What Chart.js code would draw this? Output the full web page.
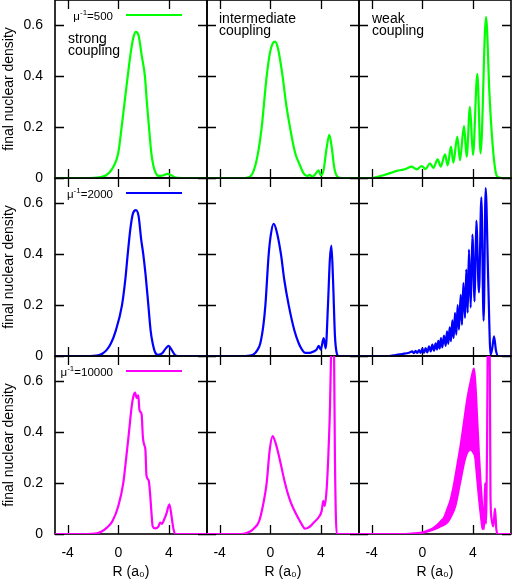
<!DOCTYPE html>
<html>
<head>
<meta charset="utf-8">
<script src="https://cdn.jsdelivr.net/npm/chart.js@4.4.1/dist/chart.umd.min.js"></script>
<style>
  body { margin: 0; background: #fff; }
  #grafica { position: relative; width: 512px; height: 581px; }
  #grafica canvas { position: absolute; left: 0; top: 0; }
</style>
</head>
<body>
<div id="grafica"></div>
<script>
const xTicks = [-4, 0, 4];
const yTicks = [0, 0.2, 0.4, 0.6];
const massLabels = ['500', '2000', '10000'];
const couplingLabels = [['strong', 'coupling'], ['intermediate', 'coupling'], ['weak', 'coupling']];
const lineColors = ['#00ff00', '#0000ff', '#ff00ff'];

// mu^-1 = 500
const strong500R = [-5, -2.5, -1.5, -1, -0.5, 0, 0.26, 0.5, 0.74, 1.0, 1.2, 1.39, 1.6, 1.85, 2.1, 2.25, 2.42, 2.6, 2.76, 2.95, 3.2, 3.5, 3.9, 4.2, 4.5, 5, 7];
const strong500D = [0, 0, 0.003, 0.01, 0.035, 0.1, 0.2, 0.3, 0.4, 0.5, 0.555, 0.575, 0.56, 0.48, 0.4, 0.3, 0.2, 0.1, 0.05, 0.02, 0.008, 0.01, 0.016, 0.01, 0.002, 0, 0];
const inter500R = [-5, -2, -1.6, -1.3, -1.0, -0.68, -0.29, 0, 0.2, 0.37, 0.6, 0.97, 1.25, 1.55, 1.95, 2.34, 2.6, 2.9, 3.1, 3.3, 3.55, 3.8, 4.0, 4.2, 4.45, 4.66, 4.85, 5.05, 5.3, 5.6, 7];
const inter500D = [0, 0, 0.005, 0.03, 0.09, 0.2, 0.4, 0.5, 0.53, 0.536, 0.51, 0.4, 0.29, 0.2, 0.1, 0.05, 0.02, 0.008, 0.012, 0.005, 0.015, 0.03, 0.01, 0.03, 0.12, 0.17, 0.12, 0.04, 0.005, 0, 0];
const weak500R = [-5, -4, -3.6, -3, -2.5, -2, -1.5, -1.2, -0.84, -0.6, -0.45, -0.05, 0.25, 0.6, 0.87, 1.21, 1.45, 1.79, 2.0, 2.26, 2.45, 2.76, 2.97, 3.29, 3.5, 3.76, 4.0, 4.34, 4.6, 5.03, 5.3, 5.55, 5.8, 6.0, 6.3, 7];
const weak500D = [0, 0, 0.004, 0.012, 0.02, 0.028, 0.033, 0.038, 0.045, 0.038, 0.034, 0.047, 0.035, 0.058, 0.04, 0.073, 0.045, 0.093, 0.05, 0.123, 0.06, 0.163, 0.07, 0.204, 0.084, 0.28, 0.09, 0.41, 0.097, 0.634, 0.33, 0.13, 0.02, 0.003, 0, 0];

// mu^-1 = 2000
const strong2000R = [-5, -2.5, -1.6, -1.24, -0.9, -0.58, -0.2, 0.29, 0.55, 0.74, 0.95, 1.15, 1.39, 1.6, 1.8, 1.97, 2.15, 2.37, 2.55, 2.71, 2.9, 3.15, 3.45, 3.75, 3.97, 4.2, 4.45, 4.7, 7];
const strong2000D = [0, 0, 0.003, 0.01, 0.025, 0.05, 0.1, 0.2, 0.3, 0.4, 0.5, 0.56, 0.574, 0.55, 0.46, 0.4, 0.32, 0.2, 0.1, 0.05, 0.015, 0.005, 0.01, 0.03, 0.04, 0.025, 0.005, 0, 0];
const inter2000R = [-5, -2, -1.6, -1.32, -1.0, -0.79, -0.55, -0.39, -0.13, 0.05, 0.26, 0.5, 0.84, 1.1, 1.45, 1.9, 2.24, 2.5, 2.76, 3.1, 3.42, 3.65, 3.82, 3.98, 4.21, 4.37, 4.55, 4.7, 4.82, 4.95, 5.1, 5.25, 5.4, 7];
const inter2000D = [0, 0, 0.002, 0.006, 0.025, 0.05, 0.12, 0.2, 0.4, 0.48, 0.52, 0.49, 0.4, 0.3, 0.2, 0.1, 0.05, 0.025, 0.012, 0.012, 0.018, 0.025, 0.04, 0.025, 0.07, 0.03, 0.2, 0.38, 0.434, 0.3, 0.08, 0.01, 0, 0];
const weak2000R = [-5, -2.63, -2.1, -1.58, -1.05, -0.8, -0.66, -0.53, -0.4, -0.26, -0.13, 0, 0.13, 0.26, 0.39, 0.53, 0.66, 0.79, 0.92, 1.05, 1.16, 1.26, 1.37, 1.47, 1.58, 1.71, 1.84, 1.95, 2.05, 2.16, 2.26, 2.37, 2.47, 2.58, 2.68, 2.79, 2.89, 3.03, 3.13, 3.24, 3.37, 3.47, 3.58, 3.68, 3.82, 3.95, 4.13, 4.26, 4.47, 4.66, 4.84, 5.0, 5.2, 5.39, 5.52, 5.66, 5.82, 6.0, 7];
const weak2000D = [0, 0, 0.004, 0.008, 0.013, 0.018, 0.011, 0.02, 0.012, 0.023, 0.012, 0.029, 0.012, 0.031, 0.014, 0.038, 0.018, 0.045, 0.021, 0.05, 0.025, 0.06, 0.029, 0.07, 0.034, 0.08, 0.04, 0.097, 0.048, 0.113, 0.058, 0.14, 0.07, 0.17, 0.084, 0.2, 0.104, 0.24, 0.123, 0.287, 0.15, 0.34, 0.17, 0.418, 0.19, 0.477, 0.215, 0.532, 0.25, 0.624, 0.139, 0.66, 0.3, 0.005, 0.03, 0.077, 0.02, 0, 0];

// mu^-1 = 10000
const strong10000R = [-5, -2.5, -1.7, -1.32, -0.9, -0.47, 0, 0.39, 0.6, 0.84, 1.05, 1.18, 1.32, 1.45, 1.58, 1.66, 1.75, 1.84, 1.94, 2.05, 2.14, 2.22, 2.4, 2.52, 2.62, 2.71, 2.9, 3.15, 3.3, 3.45, 3.6, 3.8, 4.03, 4.2, 4.35, 4.53, 7];
const strong10000D = [0, 0, 0.003, 0.01, 0.025, 0.05, 0.11, 0.2, 0.29, 0.4, 0.5, 0.54, 0.556, 0.535, 0.545, 0.49, 0.48, 0.47, 0.38, 0.35, 0.33, 0.23, 0.21, 0.15, 0.08, 0.03, 0.022, 0.028, 0.045, 0.04, 0.055, 0.08, 0.117, 0.07, 0.02, 0, 0];
const inter10000R = [-5, -2.3, -2, -1.6, -1.34, -0.89, -0.55, -0.29, -0.05, 0.18, 0.4, 0.68, 1.16, 1.5, 1.82, 2.34, 2.6, 2.74, 3.0, 3.25, 3.53, 3.79, 4.05, 4.18, 4.3, 4.45, 4.58, 4.71, 4.8, 4.92, 5.03, 5.1, 5.24, 7];
const inter10000D = [0, 0, 0.002, 0.01, 0.02, 0.05, 0.12, 0.2, 0.33, 0.385, 0.36, 0.307, 0.2, 0.14, 0.1, 0.05, 0.028, 0.021, 0.025, 0.035, 0.05, 0.064, 0.09, 0.13, 0.11, 0.18, 0.31, 0.5, 0.72, 0.95, 0.72, 0.3, 0, 0];
// acoplamiento debil: borde superior de la banda + cola, y borde inferior de la banda
const weak10000R = [-5, -1.3, -0.5, 0, 0.26, 0.5, 0.79, 1.05, 1.32, 1.5, 1.71, 1.97, 2.24, 2.5, 2.76, 3.03, 3.29, 3.55, 3.82, 3.95, 4.08, 4.21, 4.34, 4.47, 4.6, 4.74, 4.82, 4.88, 4.95, 5.02, 5.1, 5.2, 5.3, 5.38, 5.47, 5.6, 5.74, 5.84, 5.95, 7];
const weak10000D = [0, 0, 0.003, 0.006, 0.01, 0.015, 0.021, 0.03, 0.042, 0.052, 0.064, 0.097, 0.136, 0.195, 0.27, 0.35, 0.44, 0.53, 0.6, 0.63, 0.65, 0.57, 0.44, 0.31, 0.2, 0.1, 0.03, 0.02, 0.2, 0.04, 0.3, 0.9, 0.9, 0.15, 0.058, 0.03, 0.1, 0.02, 0, 0];
const weak10000LowR = [-1.3, -0.5, 0, 0.5, 1.0, 1.5, 2.0, 2.3, 2.63, 3.0, 3.42, 3.8, 4.0, 4.15, 4.3, 4.45, 4.6, 4.74, 4.82];
const weak10000LowD = [0, 0.002, 0.004, 0.01, 0.018, 0.03, 0.045, 0.07, 0.11, 0.2, 0.3, 0.33, 0.32, 0.3, 0.22, 0.14, 0.07, 0.018, 0.03];

const FONT = '"Liberation Sans", Arial, sans-serif';
Chart.defaults.color = '#000';
Chart.defaults.font.family = FONT;
Chart.defaults.font.size = 14;

function pts(xs, ys) {
  return xs.map((x, i) => ({ x: x, y: ys[i] }));
}

function serie(xs, ys, color, extra) {
  return Object.assign({
    data: pts(xs, ys),
    borderColor: color,
    backgroundColor: color,
    borderWidth: 2.2,
    pointRadius: 0,
    cubicInterpolationMode: 'monotone',
    fill: false
  }, extra || {});
}

// sin margen extra por las etiquetas: cada panel ocupa su hueco exacto
function sinRelleno(s) {
  s.paddingTop = 0;
  s.paddingBottom = 0;
  s.paddingLeft = 0;
  s.paddingRight = 0;
}

// marco con marcas hacia dentro en los cuatro lados (estilo gnuplot)
const marco = {
  id: 'marco',
  beforeDatasetsDraw(chart) {
    const { ctx, chartArea: a } = chart;
    const x = chart.scales.x, y = chart.scales.y;
    ctx.save();
    ctx.strokeStyle = '#000';
    ctx.lineWidth = 1.6;
    ctx.strokeRect(a.left, a.top, a.right - a.left, a.bottom - a.top);
    ctx.lineWidth = 1.3;
    ctx.beginPath();
    xTicks.forEach(v => {
      const p = Math.round(x.getPixelForValue(v)) + 0.5;
      ctx.moveTo(p, a.bottom);
      ctx.lineTo(p, a.bottom - 9);
      ctx.moveTo(p, a.top);
      ctx.lineTo(p, a.top + 9);
    });
    yTicks.forEach(v => {
      const p = Math.round(y.getPixelForValue(v)) + 0.5;
      ctx.moveTo(a.left, p);
      ctx.lineTo(a.left + 9, p);
      ctx.moveTo(a.right, p);
      ctx.lineTo(a.right - 9, p);
    });
    ctx.stroke();
    ctx.restore();
  }
};

function notas(r, c) {
  return {
    id: 'notas',
    afterDraw(chart) {
      const { ctx, chartArea: a } = chart;
      ctx.save();
      ctx.fillStyle = '#000';
      ctx.textBaseline = 'alphabetic';
      if (c === 0) {
        // clave: mu^-1=... y muestra de linea
        const base = a.top + 20;
        ctx.font = '11.5px ' + FONT;
        const w1 = ctx.measureText('\u03bc').width;
        const w3 = ctx.measureText('=' + massLabels[r]).width;
        ctx.font = '8px ' + FONT;
        const w2 = ctx.measureText('-1').width;
        let x0 = a.left + 58 - (w1 + w2 + w3);
        ctx.font = '11.5px ' + FONT;
        ctx.fillText('\u03bc', x0, base);
        ctx.font = '8px ' + FONT;
        ctx.fillText('-1', x0 + w1, base - 5);
        ctx.font = '11.5px ' + FONT;
        ctx.fillText('=' + massLabels[r], x0 + w1 + w2, base);
        ctx.strokeStyle = lineColors[r];
        ctx.lineWidth = 2.2;
        ctx.beginPath();
        ctx.moveTo(a.left + 71, a.top + 15);
        ctx.lineTo(a.left + 127, a.top + 15);
        ctx.stroke();
      }
      if (r === 0) {
        ctx.font = '14px ' + FONT;
        const y0 = c === 0 ? 43 : 23;
        couplingLabels[c].forEach((txt, i) => {
          ctx.fillText(txt, a.left + (c === 1 ? 12 : 13), a.top + y0 + i * 12);
        });
      }
      ctx.restore();
    }
  };
}

const contenedor = document.getElementById('grafica');

function panel(r, c, datasets) {
  const canvas = document.createElement('canvas');
  canvas.width = 512;
  canvas.height = 581;
  contenedor.appendChild(canvas);
  const left = 55 + 152 * c;
  const top = 178 * r;
  new Chart(canvas, {
    type: 'line',
    data: { datasets: datasets },
    options: {
      responsive: false,
      animation: false,
      events: [],
      layout: {
        padding: {
          left: c === 0 ? 0 : left,
          right: 512 - left - 152,
          top: top,
          bottom: r === 2 ? 0 : 581 - top - 178
        }
      },
      scales: {
        x: {
          type: 'linear',
          min: -5,
          max: 7,
          afterBuildTicks: s => { s.ticks = xTicks.map(v => ({ value: v })); },
          afterFit: s => { s.height = r === 2 ? 47 : 0; sinRelleno(s); },
          grid: { display: false, drawTicks: false },
          border: { display: false },
          ticks: { display: r === 2, autoSkip: false, maxRotation: 0, padding: 11 },
          title: { display: r === 2, text: 'R (a\u2080)', padding: { top: 0, bottom: 0 } }
        },
        y: {
          min: 0,
          max: 0.7,
          afterBuildTicks: s => { s.ticks = yTicks.map(v => ({ value: v })); },
          afterFit: s => { s.width = c === 0 ? 55 : 0; sinRelleno(s); },
          grid: { display: false, drawTicks: false },
          border: { display: false },
          ticks: { display: c === 0, autoSkip: false, padding: 12 },
          title: { display: c === 0, text: 'final nuclear density', padding: { top: 1, bottom: 0 } }
        }
      },
      plugins: { legend: { display: false }, tooltip: { enabled: false } }
    },
    plugins: [marco, notas(r, c)]
  });
}

panel(0, 0, [serie(strong500R, strong500D, lineColors[0])]);
panel(0, 1, [serie(inter500R, inter500D, lineColors[0])]);
panel(0, 2, [serie(weak500R, weak500D, lineColors[0])]);
panel(1, 0, [serie(strong2000R, strong2000D, lineColors[1])]);
panel(1, 1, [serie(inter2000R, inter2000D, lineColors[1])]);
panel(1, 2, [serie(weak2000R, weak2000D, lineColors[1])]);
panel(2, 0, [serie(strong10000R, strong10000D, lineColors[2])]);
panel(2, 1, [serie(inter10000R, inter10000D, lineColors[2])]);
panel(2, 2, [
  serie(weak10000R, weak10000D, lineColors[2]),
  serie(weak10000LowR, weak10000LowD, lineColors[2], { fill: '-1', borderWidth: 1.5 })
]);
</script>
</body>
</html>
